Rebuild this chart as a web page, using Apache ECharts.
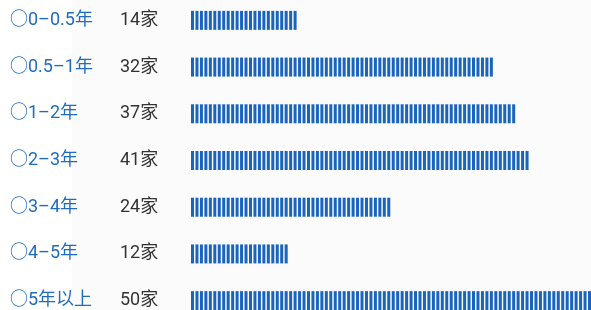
<!DOCTYPE html>
<html>
<head>
<meta charset="utf-8">
<style>
  html, body { margin: 0; padding: 0; background: #fff; }
  #chart { width: 591px; height: 310px; }
</style>
</head>
<body>
<div id="chart"></div>
<script src="https://cdn.jsdelivr.net/npm/echarts@6/dist/echarts.min.js"></script>
<script>
const chart = echarts.init(document.getElementById('chart'));

// 分类（经营年限）
const categories = ['0–0.5年', '0.5–1年', '1–2年', '2–3年', '3–4年', '4–5年', '5年以上'];
// 每类家数
const counts = [14, 32, 37, 41, 24, 12, 50];
// 条形长度（按图读取，满格 = 100）
const barValues = [26, 74.6, 80.5, 83.8, 49, 24, 100];

const labelFont = 'Roboto, "Noto Sans CJK SC", sans-serif';

const option = {
  animation: false,
  backgroundColor: '#fff',
  // 右侧浅灰底
  graphic: [{
    type: 'rect',
    z: -10,
    shape: { x: 72, y: 0, width: 519, height: 310 },
    style: { fill: '#fbfbfb' },
    silent: true
  }],
  grid: {
    left: 191, width: 400, top: -3, height: 327,
    outerBoundsMode: 'none'
  },
  xAxis: {
    type: 'value',
    min: 0,
    max: 100,
    show: false
  },
  yAxis: {
    type: 'category',
    inverse: true,
    data: categories,
    axisLine: { show: false },
    axisTick: { show: false },
    splitLine: { show: false },
    axisLabel: {
      align: 'left',
      margin: 181,
      formatter: function (value, idx) {
        return '{a|○' + value + '}{b|' + counts[idx] + '家}';
      },
      rich: {
        a: {
          width: 110,
          color: '#1f6cbd',
          fontSize: 18,
          fontFamily: labelFont
        },
        b: {
          color: '#333',
          fontSize: 18,
          fontFamily: labelFont
        }
      }
    }
  },
  series: [{
    type: 'pictorialBar',
    symbol: 'rect',
    symbolRepeat: true,
    symbolSize: [3, 19],
    symbolMargin: 0.75,
    itemStyle: { color: '#1865bb' },
    data: barValues
  }]
};

chart.setOption(option);
</script>
</body>
</html>
